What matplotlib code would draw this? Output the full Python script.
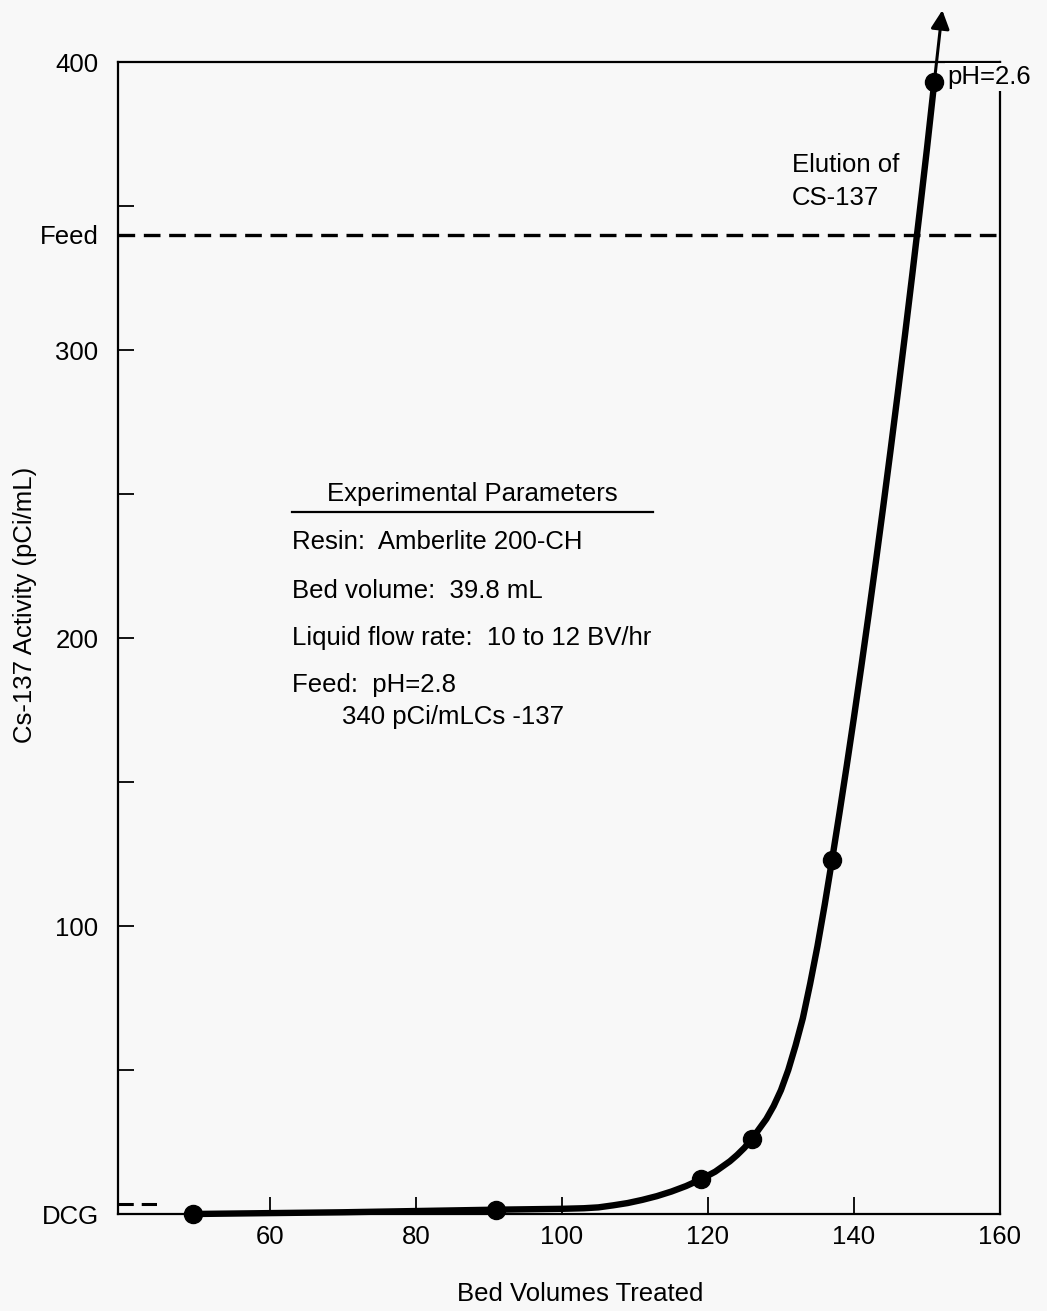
import matplotlib
matplotlib.use('Agg')
import matplotlib.pyplot as plt
from matplotlib.lines import Line2D

# ---- data ----
bed_volumes = [49.5, 91, 119, 126, 137, 151]
activity = [0, 1.5, 12, 26, 123, 393]

# hand-drawn fit curve
curve_x = [49.5, 70, 91, 100, 103, 105, 107, 109, 111, 113, 115, 117, 119,
           121, 123, 124, 125, 126, 127, 128, 129, 130, 131, 132, 133, 134,
           135, 136, 137, 138, 139, 140, 141, 142, 143, 144, 145, 146, 147,
           148, 149, 150, 151]
curve_y = [0, 0.6, 1.5, 1.8, 2.0, 2.3, 3.0, 3.8, 4.9, 6.2, 7.8, 9.7, 12,
           14.7, 18.3, 20.5, 23, 26, 29.5, 33, 37.5, 43, 50, 58.5, 68, 80,
           93, 107.5, 123, 139, 155.5, 172.5, 190, 208, 226.5, 245.5, 265, 285, 305.5,
           326.5, 348, 370, 393]
arrow_start = (151, 393)
arrow_tip = (152.1, 418)

feed_level = 340
dcg_level = 3.5
dcg_end_x = 45

yticks = [0, 100, 200, 300, 340, 400]
ytick_labels = ['DCG', '100', '200', '300', 'Feed', '400']
minor_yticks = [50, 150, 250, 350]
xticks = [60, 80, 100, 120, 140, 160]
xtick_labels = ['60', '80', '100', '120', '140', '160']

params_title = 'Experimental Parameters'
params_lines = ['Resin:  Amberlite 200-CH',
                'Bed volume:  39.8 mL',
                'Liquid flow rate:  10 to 12 BV/hr',
                'Feed:  pH=2.8']
params_last = '340 pCi/mLCs -137'

# ---- figure ----
W, H = 1047, 1311
bg = '#f8f8f8'
plt.rcParams['font.family'] = ['Liberation Sans', 'DejaVu Sans']
fig = plt.figure(figsize=(W / 100, H / 100), dpi=100, facecolor=bg)

def fx(px):
    return px / W

def fy(py):
    return 1 - py / H

ax = fig.add_axes([fx(118), fy(1214), fx(1000) - fx(118), fy(62) - fy(1214)])
ax.set_facecolor(bg)
ax.set_xlim(39.2, 160)
ax.set_ylim(0, 400)

for s in ax.spines.values():
    s.set_linewidth(1.6)
    s.set_color('black')

ax.set_xticks(xticks)
ax.set_xticklabels(xtick_labels)
ax.set_yticks(yticks)
ax.set_yticklabels(ytick_labels)
ax.set_yticks(minor_yticks, minor=True)
ax.tick_params(axis='both', which='both', direction='in', width=1.3,
               colors='black', labelsize=18.5)
ax.tick_params(axis='y', which='both', length=11.5, pad=14, left=True, right=False)
ax.tick_params(axis='x', which='major', length=12, pad=8, top=False)
# no tick marks at Feed / DCG / 400 positions
for t, v in zip(ax.yaxis.get_major_ticks(), yticks):
    if v in (0, 340, 400):
        t.tick1line.set_visible(False)

# Feed and DCG reference lines
ax.plot([39.2, 160], [feed_level, feed_level], color='black', lw=2.4,
        linestyle=(0, (5, 2.6)), zorder=2, clip_on=False)
ax.plot([39.2, dcg_end_x], [dcg_level, dcg_level], color='black', lw=2.2,
        linestyle=(0, (5, 2.6)), zorder=2)

# curve and points
ax.plot(curve_x, curve_y, color='black', lw=4.6, solid_capstyle='round',
        solid_joinstyle='round', zorder=3, clip_on=False)
ax.plot(bed_volumes, activity, 'o', color='black', markersize=13, zorder=4,
        clip_on=False)
ax.annotate('', xy=arrow_tip, xytext=arrow_start,
            arrowprops=dict(arrowstyle='-|>', lw=2.2, color='black',
                            mutation_scale=28, shrinkA=0, shrinkB=0),
            annotation_clip=False, zorder=5)

# annotations
fs = 18.5
ax.text(fx(947), fy(77), 'pH=2.6', fontsize=fs, ha='left', va='center',
        transform=fig.transFigure, zorder=3.5, clip_on=False,
        bbox=dict(facecolor=bg, edgecolor='none', pad=1.5))
fig.text(fx(792), fy(165), 'Elution of', fontsize=fs, ha='left', va='center')
fig.text(fx(792), fy(198), 'CS-137', fontsize=fs, ha='left', va='center')

fig.text(fx(472), fy(494), params_title, fontsize=fs, ha='center', va='center')
fig.add_artist(Line2D([fx(292), fx(653)], [fy(512), fy(512)], color='black',
                      lw=1.6, transform=fig.transFigure))
for i, line in enumerate(params_lines):
    fig.text(fx(292), fy([542, 591, 638, 685][i]), line, fontsize=fs,
             ha='left', va='center')
fig.text(fx(342), fy(717), params_last, fontsize=fs, ha='left', va='center')

fig.text(fx(25), fy(605), 'Cs-137 Activity (pCi/mL)', fontsize=fs,
         rotation=90, ha='center', va='center')
fig.text(fx(580), fy(1294), 'Bed Volumes Treated', fontsize=fs,
         ha='center', va='center')

fig.savefig('out.png', dpi=100, facecolor=bg)
